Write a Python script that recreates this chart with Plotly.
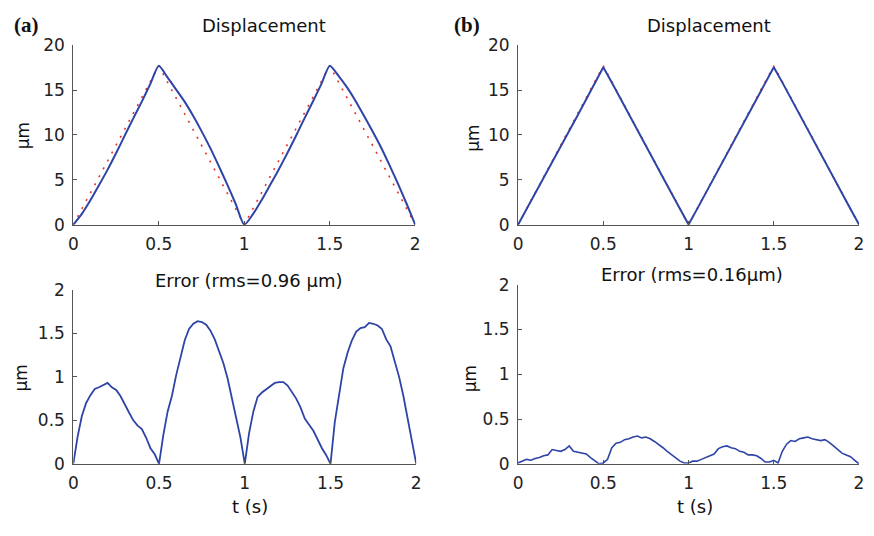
import plotly.graph_objects as go

# The page keeps its default 8px body margin, so the figure is sized to fill
# the 874x536 window exactly and all reference pixel positions are shifted by 8.
WIN_W, WIN_H = 874, 536
OFF = 8
W, H = WIN_W - 2 * OFF, WIN_H - 2 * OFF

# ---------------- data ----------------
t_ref = [0, 0.5, 1.0, 1.5, 2.0]
ref_disp = [0, 17.7, 0, 17.7, 0]

t_disp = [round(0.05 * i, 2) for i in range(41)]
disp_a = [0, 1.21, 2.72, 4.39, 6.11, 7.96, 9.90, 11.82, 13.69, 15.66, 17.7,
          16.44, 15.10, 13.74, 12.16, 10.43, 8.59, 6.58, 4.50, 2.31, 0,
          1.16, 2.70, 4.39, 6.10, 7.90, 9.81, 11.77, 13.68, 15.64, 17.7,
          16.62, 15.33, 13.82, 12.14, 10.41, 8.61, 6.61, 4.52, 2.31, 0]
disp_b = [0, 1.73, 3.48, 5.14, 6.90, 8.68, 10.40, 12.20, 13.98, 15.80, 17.55,
          15.85, 14.06, 12.30, 10.55, 8.78, 7.02, 5.27, 3.51, 1.75, 0.02,
          1.74, 3.50, 5.22, 6.95, 8.72, 10.45, 12.25, 14.02, 15.82, 17.55,
          15.86, 14.08, 12.31, 10.54, 8.80, 7.03, 5.28, 3.52, 1.76, 0.02]

t_err = [round(0.025 * i, 3) for i in range(81)]
err_a = [0, 0.31, 0.55, 0.70, 0.79, 0.86, 0.88, 0.91, 0.93, 0.88,
         0.85, 0.78, 0.68, 0.59, 0.50, 0.44, 0.40, 0.30, 0.18, 0.11,
         0, 0.33, 0.60, 0.78, 1.02, 1.22, 1.42, 1.55, 1.61, 1.64,
         1.63, 1.60, 1.53, 1.43, 1.30, 1.16, 0.98, 0.75, 0.55, 0.30,
         0, 0.35, 0.60, 0.77, 0.82, 0.86, 0.89, 0.93, 0.94, 0.94,
         0.90, 0.83, 0.75, 0.65, 0.52, 0.45, 0.38, 0.28, 0.18, 0.10,
         0, 0.48, 0.80, 1.10, 1.28, 1.42, 1.52, 1.56, 1.57, 1.62,
         1.61, 1.59, 1.55, 1.43, 1.35, 1.18, 1.00, 0.78, 0.52, 0.24,
         0]
err_b = [0.01, 0.03, 0.05, 0.04, 0.06, 0.07, 0.09, 0.10, 0.16, 0.15,
         0.14, 0.16, 0.20, 0.14, 0.13, 0.12, 0.11, 0.07, 0.03, 0.00,
         0.01, 0.05, 0.18, 0.23, 0.24, 0.27, 0.28, 0.30, 0.31, 0.29,
         0.30, 0.28, 0.25, 0.22, 0.18, 0.14, 0.10, 0.06, 0.03, 0.01,
         0.01, 0.03, 0.03, 0.05, 0.07, 0.09, 0.11, 0.17, 0.19, 0.20,
         0.18, 0.17, 0.14, 0.13, 0.10, 0.10, 0.09, 0.06, 0.02, 0.02,
         0.04, 0.01, 0.14, 0.22, 0.26, 0.25, 0.28, 0.29, 0.30, 0.28,
         0.27, 0.26, 0.27, 0.24, 0.20, 0.16, 0.12, 0.10, 0.08, 0.04,
         0.0]

x_ticks = [0, 0.5, 1, 1.5, 2]
x_ticklabels = ["0", "0.5", "1", "1.5", "2"]
yd_ticks = [0, 5, 10, 15, 20]
ye_ticks = [0, 0.5, 1, 1.5, 2]
ye_ticklabels = ["0", "0.5", "1", "1.5", "2"]

BLUE = "#2e44a6"
RED = "#e8322f"
FONT = "DejaVu Sans, Verdana, sans-serif"

fig = go.Figure()

def dom_x(x0, x1):
    return [(x0 - OFF) / W, min((x1 - OFF) / W, 1.0)]

def dom_y(ytop, ybot):
    return [(H - (ybot - OFF)) / H, (H - (ytop - OFF)) / H]

# panel geometry (window pixels of the reference)
panels = {
    1: dict(x=(69, 415), y=(36.3, 223)),
    2: dict(x=(519, 864), y=(36.3, 223)),
    3: dict(x=(69, 416), y=(290.7, 471.7)),
    4: dict(x=(519, 864), y=(285.3, 471.7)),
}

# traces
fig.add_trace(go.Scatter(x=t_ref, y=ref_disp, mode="lines", xaxis="x", yaxis="y",
                         line=dict(color=RED, width=1.6, dash="2px,7px")))
fig.add_trace(go.Scatter(x=t_disp, y=disp_a, mode="lines", xaxis="x", yaxis="y",
                         line=dict(color=BLUE, width=2, shape="spline", smoothing=0.6)))
fig.add_trace(go.Scatter(x=t_ref, y=ref_disp, mode="lines", xaxis="x2", yaxis="y2",
                         line=dict(color=RED, width=1.6, dash="2px,7px")))
fig.add_trace(go.Scatter(x=t_disp, y=disp_b, mode="lines", xaxis="x2", yaxis="y2",
                         line=dict(color=BLUE, width=2)))
fig.add_trace(go.Scatter(x=t_err, y=err_a, mode="lines", xaxis="x3", yaxis="y3",
                         line=dict(color=BLUE, width=1.8)))
fig.add_trace(go.Scatter(x=t_err, y=err_b, mode="lines", xaxis="x4", yaxis="y4",
                         line=dict(color=BLUE, width=1.6)))

axis_common = dict(showgrid=False, zeroline=False, showline=True, linecolor="#555555",
                   linewidth=1, ticks="inside", ticklen=4, tickcolor="#555555",
                   tickfont=dict(family=FONT, size=17, color="#222222"))

layout = dict(width=W, height=H, autosize=False, margin=dict(l=0, r=0, t=0, b=0),
              paper_bgcolor="white", plot_bgcolor="white", showlegend=False)

for i, p in panels.items():
    xs = "xaxis" if i == 1 else f"xaxis{i}"
    ys = "yaxis" if i == 1 else f"yaxis{i}"
    yref = "y" if i == 1 else f"y{i}"
    xref = "x" if i == 1 else f"x{i}"
    layout[xs] = dict(axis_common, domain=dom_x(*p["x"]), anchor=yref, range=[0, 2],
                      tickvals=x_ticks, ticktext=x_ticklabels, ticklabelstandoff=4)
    if i <= 2:
        layout[ys] = dict(axis_common, domain=dom_y(*p["y"]), anchor=xref, range=[0, 20],
                          tickvals=yd_ticks, ticklabelstandoff=4)
    else:
        layout[ys] = dict(axis_common, domain=dom_y(*p["y"]), anchor=xref, range=[0, 2],
                          tickvals=ye_ticks, ticktext=ye_ticklabels, ticklabelstandoff=4)

fig.update_layout(**layout)

def ann(text, x, y, size=18, family=FONT, angle=0, bold=False):
    fig.add_annotation(text=f"<b>{text}</b>" if bold else text,
                       x=(x - OFF) / W, y=(H - (y - OFF)) / H, xref="paper", yref="paper",
                       showarrow=False, xanchor="center", yanchor="middle",
                       textangle=angle, font=dict(family=family, size=size, color="#111111"))

ann("Displacement", 262, 16)
ann("Displacement", 712, 16)
ann("Error (rms=0.96 \u03bcm)", 247, 281)
ann("Error (rms=0.16\u03bcm)", 695, 275)
ann("\u03bcm", 18, 130, angle=-90, size=17)
ann("\u03bcm", 474, 133, angle=-90, size=17)
ann("\u03bcm", 16, 382, angle=-90, size=17)
ann("\u03bcm", 470, 383, angle=-90, size=17)
ann("t (s)", 248, 516)
ann("t (s)", 698, 516)
ann("(a)", 22, 15, size=21, family="Liberation Serif, Times New Roman, serif", bold=True)
ann("(b)", 467, 15, size=21, family="Liberation Serif, Times New Roman, serif", bold=True)

fig.write_html("out.html", config={"responsive": False, "displayModeBar": False})
